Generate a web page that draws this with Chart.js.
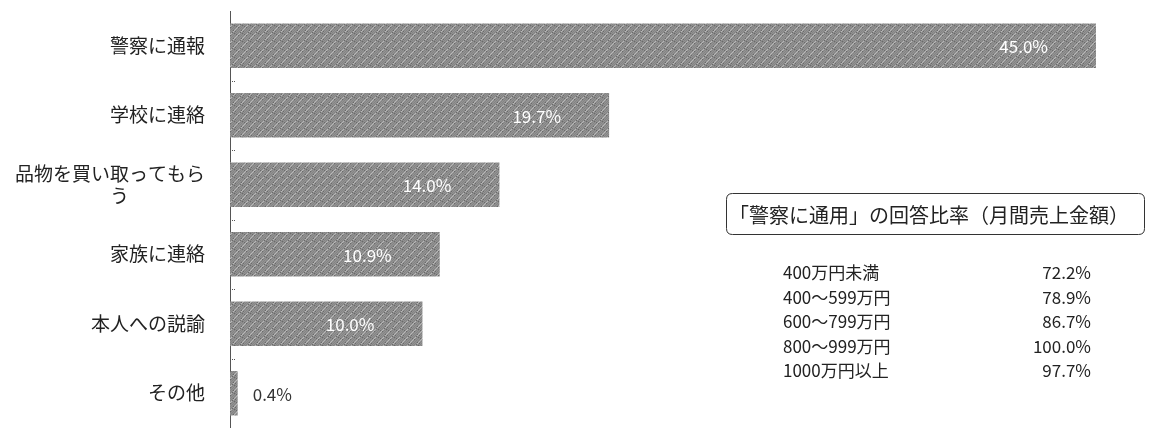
<!DOCTYPE html>
<html>
<head>
<meta charset="utf-8">
<script src="https://cdn.jsdelivr.net/npm/chart.js@4"></script>
<style>
  html, body { margin: 0; padding: 0; background: #fff; }
  #wrap { width: 1149px; height: 428px; }
</style>
</head>
<body>
<div id="wrap"><canvas id="chart"></canvas></div>
<script>
// 対応の内訳
const categories = [
  '警察に通報',
  '学校に連絡',
  ['品物を買い取ってもら', 'う\u3000\u3000\u3000\u3000'],
  '家族に連絡',
  '本人への説諭',
  'その他'
];
const shares = [45.0, 19.7, 14.0, 10.9, 10.0, 0.4];

// 「警察に通用」の回答比率（月間売上金額）
const insetTitle = '「警察に通用」の回答比率（月間売上金額）';
const salesBands = ['400万円未満', '400～599万円', '600～799万円', '800～999万円', '1000万円以上'];
const policeRates = [72.2, 78.9, 86.7, 100.0, 97.7];

const FONT = '"Noto Sans CJK JP", "Noto Sans", sans-serif';

// 網掛け風のパターン
function makePattern() {
  const c = document.createElement('canvas');
  c.width = 8; c.height = 8;
  const g = c.getContext('2d');
  g.fillStyle = '#939393';
  g.fillRect(0, 0, 8, 8);
  for (let y = 0; y < 8; y++) {
    for (let x = 0; x < 8; x++) {
      if ((x + y) % 2 === 0) { g.fillStyle = '#858585'; g.fillRect(x, y, 1, 1); }
      if ((x + y) % 8 === 0) { g.fillStyle = '#b8b8b8'; g.fillRect(x, y, 1, 1); }
      if ((x * 3 + y * 5) % 11 === 0) { g.fillStyle = '#6a6a6a'; g.fillRect(x, y, 1, 1); }
    }
  }
  return g.createPattern(c, 'repeat');
}

const valueLabels = {
  id: 'valueLabels',
  afterDatasetsDraw(chart) {
    const ctx = chart.ctx;
    const meta = chart.getDatasetMeta(0);
    ctx.save();
    ctx.font = '17px ' + FONT;
    ctx.textBaseline = 'middle';
    meta.data.forEach((bar, i) => {
      const txt = shares[i].toFixed(1) + '%';
      if (shares[i] < 2) {
        ctx.fillStyle = '#333';
        ctx.textAlign = 'left';
        ctx.fillText(txt, bar.x + 15, bar.y + 1);
      } else {
        ctx.fillStyle = '#ffffff';
        ctx.textAlign = 'right';
        ctx.fillText(txt, bar.x - 48, bar.y + 1);
      }
    });
    ctx.restore();
  }
};

const innerTicks = {
  id: 'innerTicks',
  afterDraw(chart) {
    const ctx = chart.ctx;
    const y = chart.scales.y;
    const x0 = chart.chartArea.left;
    const band = Math.abs(y.getPixelForValue(1) - y.getPixelForValue(0));
    ctx.save();
    ctx.strokeStyle = '#555';
    ctx.lineWidth = 1;
    ctx.setLineDash([1, 1]);
    for (let i = 1; i < categories.length; i++) {
      const py = Math.round(y.getPixelForValue(i) - band / 2) + 0.5;
      ctx.beginPath();
      ctx.moveTo(x0, py);
      ctx.lineTo(x0 + 6, py);
      ctx.stroke();
    }
    ctx.restore();
  }
};

const inset = {
  id: 'inset',
  afterDraw(chart) {
    const ctx = chart.ctx;
    ctx.save();
    // 枠
    const bx = 726.5, by = 193.5, bw = 418, bh = 41, r = 6;
    ctx.strokeStyle = '#333';
    ctx.lineWidth = 1;
    ctx.beginPath();
    ctx.moveTo(bx + r, by);
    ctx.lineTo(bx + bw - r, by);
    ctx.quadraticCurveTo(bx + bw, by, bx + bw, by + r);
    ctx.lineTo(bx + bw, by + bh - r);
    ctx.quadraticCurveTo(bx + bw, by + bh, bx + bw - r, by + bh);
    ctx.lineTo(bx + r, by + bh);
    ctx.quadraticCurveTo(bx, by + bh, bx, by + bh - r);
    ctx.lineTo(bx, by + r);
    ctx.quadraticCurveTo(bx, by, bx + r, by);
    ctx.stroke();

    ctx.fillStyle = '#222';
    ctx.textBaseline = 'middle';
    ctx.font = '20px ' + FONT;
    ctx.textAlign = 'left';
    ctx.fillText(insetTitle, 729, 215);

    ctx.font = '17px ' + FONT;
    salesBands.forEach((band, i) => {
      const ry = 273 + i * 24.5;
      ctx.textAlign = 'left';
      ctx.fillText(band, 783, ry);
      ctx.textAlign = 'right';
      ctx.fillText(policeRates[i].toFixed(1) + '%', 1091, ry);
    });
    ctx.restore();
  }
};

new Chart(document.getElementById('chart'), {
  type: 'bar',
  data: {
    labels: categories,
    datasets: [{
      data: shares,
      backgroundColor: makePattern(),
      borderWidth: 0,
      categoryPercentage: 0.64,
      barPercentage: 1.0
    }]
  },
  options: {
    indexAxis: 'y',
    responsive: true,
    maintainAspectRatio: false,
    animation: false,
    layout: { padding: { left: 0, right: 53, top: 11, bottom: 0 } },
    plugins: {
      legend: { display: false },
      tooltip: { enabled: false }
    },
    scales: {
      x: {
        min: 0,
        max: 45,
        display: false
      },
      y: {
        grid: { display: false, drawTicks: false },
        border: { display: true, color: '#555', width: 1, dash: [1, 1] },
        afterFit(scale) {
          scale.width = 230;
          scale.paddingTop = 0;
          scale.paddingBottom = 0;
        },
        ticks: {
          padding: 25,
          color: '#222',
          font: { family: FONT, size: 19, lineHeight: 1.15 }
        }
      }
    }
  },
  plugins: [valueLabels, innerTicks, inset]
});
</script>
</body>
</html>
